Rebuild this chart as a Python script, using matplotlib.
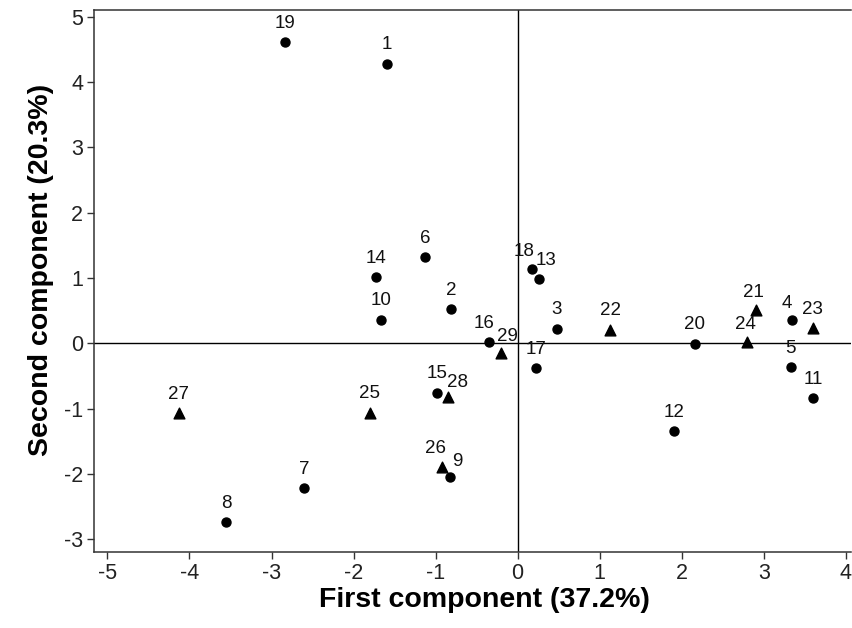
import matplotlib
matplotlib.use("Agg")
import matplotlib.pyplot as plt

plt.rcParams['font.family'] = ['Liberation Sans', 'DejaVu Sans']
plt.rcParams['axes.unicode_minus'] = False

# samples drawn as circles
circle_ids = [1, 2, 3, 4, 5, 6, 7, 8, 9, 10, 11, 12, 13, 14, 15, 16, 17, 18, 19, 20]
circle_x = [-1.59, -0.81, 0.48, 3.35, 3.33, -1.13, -2.60, -3.55, -0.83, -1.66,
            3.60, 1.91, 0.26, -1.73, -0.98, -0.35, 0.23, 0.17, -2.83, 2.16]
circle_y = [4.28, 0.52, 0.22, 0.35, -0.37, 1.32, -2.22, -2.74, -2.05, 0.36,
            -0.84, -1.35, 0.99, 1.01, -0.76, 0.02, -0.38, 1.13, 4.61, -0.01]

# samples drawn as triangles
tri_ids = [21, 22, 23, 24, 25, 26, 27, 28, 29]
tri_x = [2.91, 1.13, 3.60, 2.80, -1.80, -0.92, -4.13, -0.85, -0.20]
tri_y = [0.51, 0.21, 0.23, 0.02, -1.06, -1.89, -1.07, -0.82, -0.15]

# label offsets in pixels (default: straight above)
label_shift = {18: (-7, 18), 13: (7, 18), 16: (-5, 18), 29: (6, 17),
               28: (10, 14), 26: (-7, 18), 9: (8, 16), 4: (-6, 17),
               21: (-3, 17), 24: (-2, 17)}

fig = plt.figure(figsize=(8.52, 6.28), dpi=100)
ax = fig.add_axes([0.1107, 0.1215, 0.8882, 0.8625])

ax.axhline(0, color='black', lw=1.0, zorder=1)
ax.axvline(0, color='black', lw=1.0, zorder=1)

ax.scatter(circle_x, circle_y, marker='o', s=42, color='black', zorder=3)
ax.scatter(tri_x, tri_y, marker='^', s=60, color='black', zorder=3)

for ids, xs, ys in [(circle_ids, circle_x, circle_y), (tri_ids, tri_x, tri_y)]:
    for i, x, y in zip(ids, xs, ys):
        dx, dy = label_shift.get(i, (0, 19))
        ax.annotate(str(i), (x, y), xytext=(dx, dy), textcoords='offset pixels',
                    ha='center', va='center', fontsize=13.5, color='#111111')

ax.set_xlim(-5.16, 4.065)
ax.set_ylim(-3.19, 5.10)
ax.set_xticks(range(-5, 5))
ax.set_yticks(range(-3, 6))
ax.tick_params(direction='out', length=5, width=1, colors='#333333',
               labelsize=15.5, labelcolor='#222222', pad=3)
for side in ['left', 'bottom', 'top']:
    ax.spines[side].set_color('#333333')
    ax.spines[side].set_linewidth(1.1)
ax.spines['right'].set_visible(False)

ax.set_xlabel('First component (37.2%)', fontsize=20.5, fontweight='bold', va='center')
ax.set_ylabel('Second component (20.3%)', fontsize=20.5, fontweight='bold', va='center')
ax.xaxis.set_label_coords(0.516, -0.09)
ax.yaxis.set_label_coords(-0.071, 0.52)

fig.savefig('out.png', dpi=100)
